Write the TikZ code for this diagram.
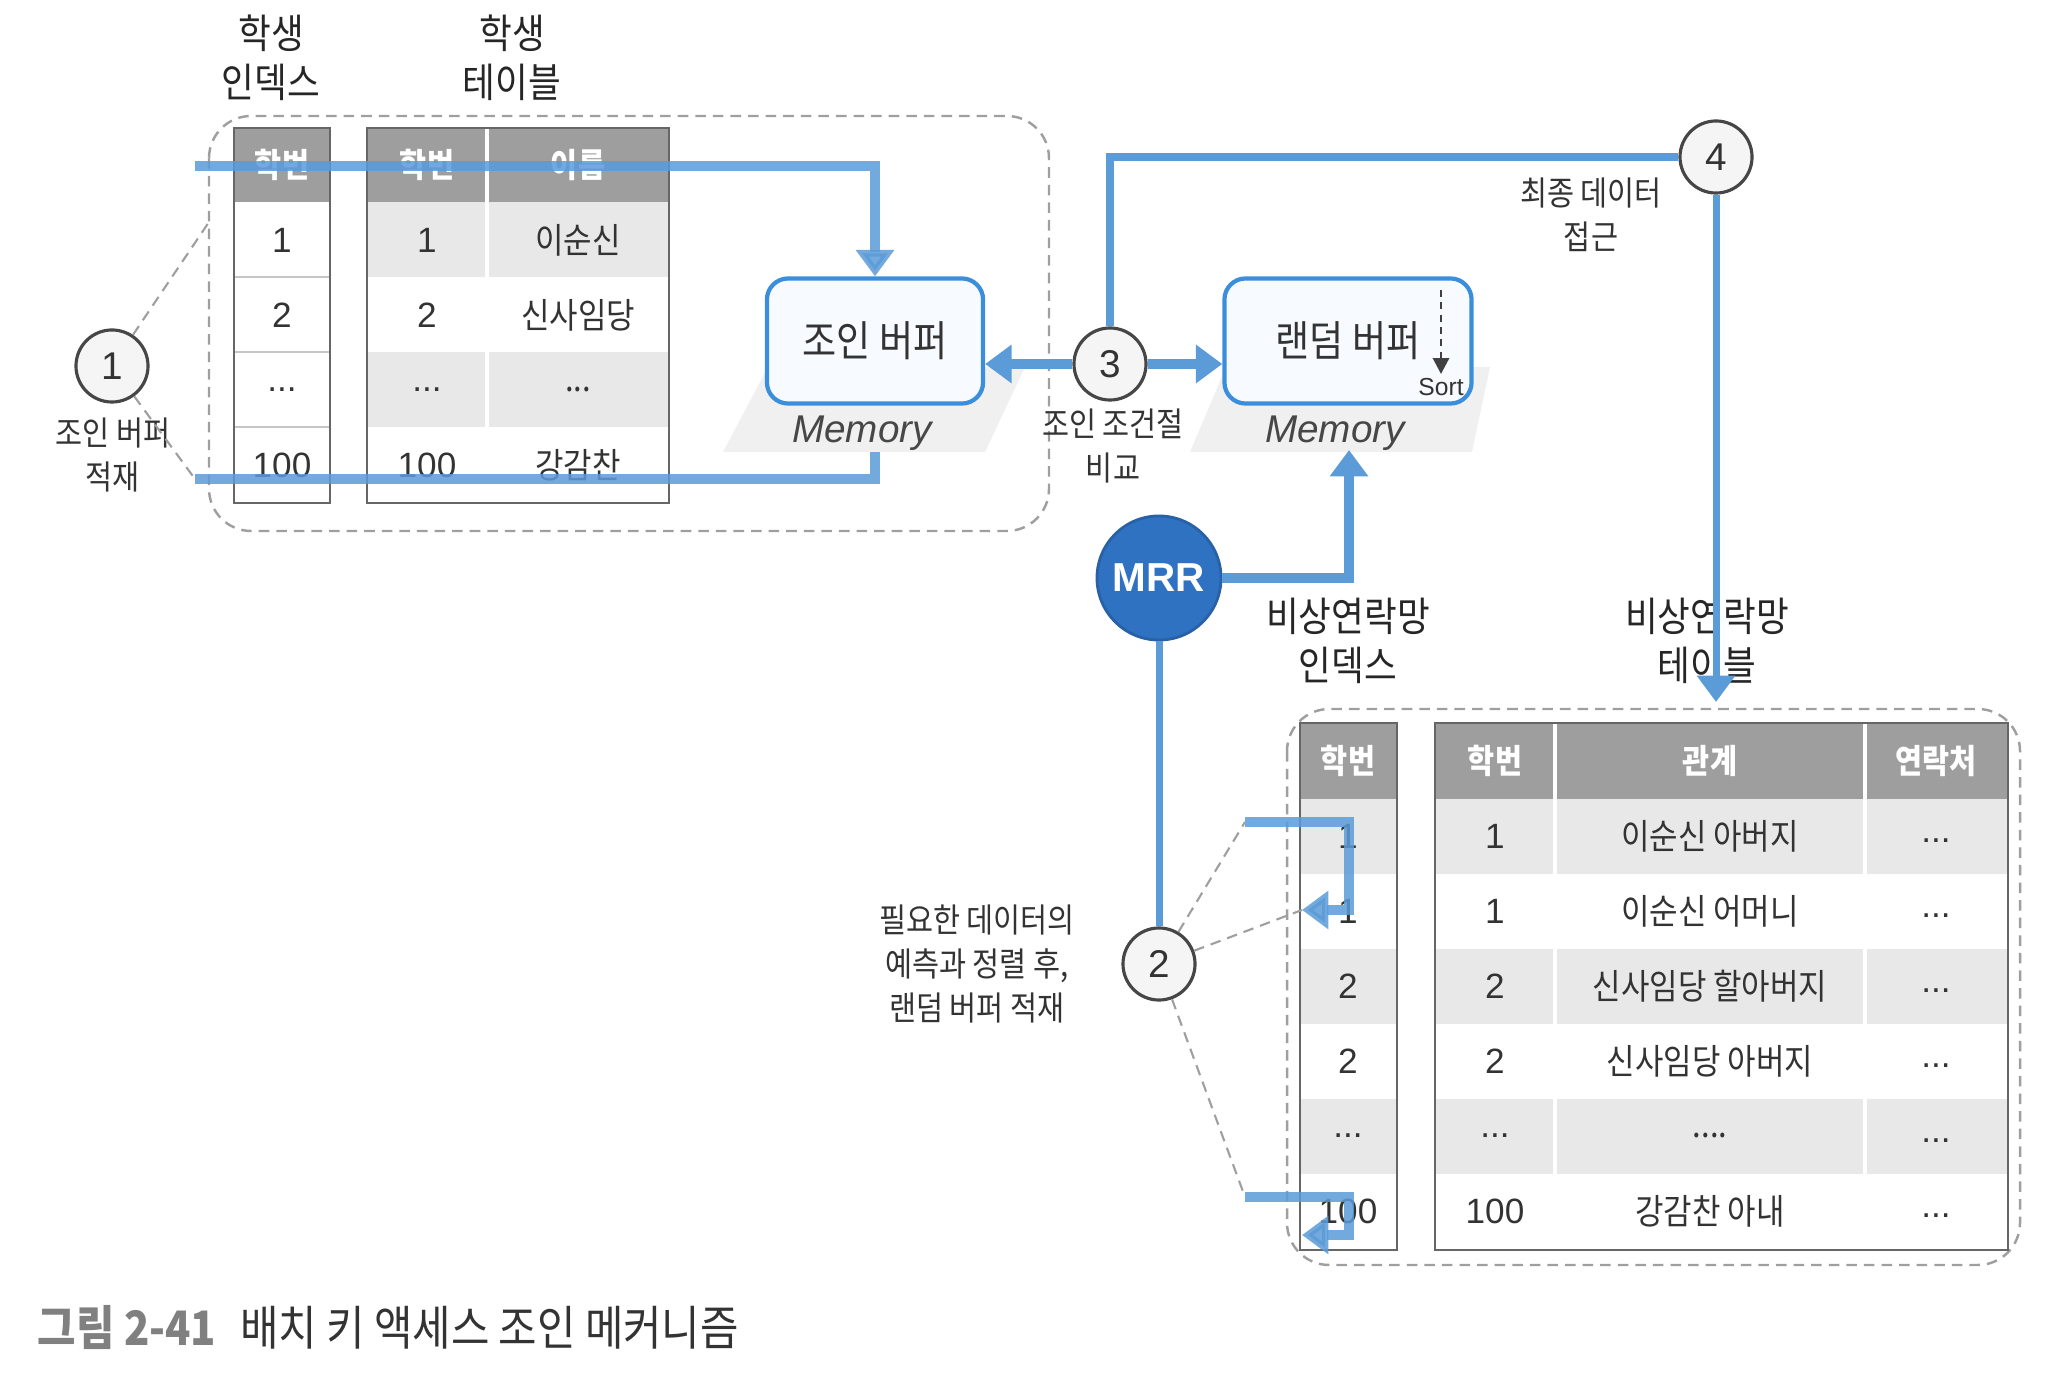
\documentclass[tikz,border=0pt]{standalone}
\usepackage{fontspec}
\setmainfont{Liberation Sans}
\newfontfamily\kr[FakeStretch=0.88]{Noto Sans CJK KR}
\usetikzlibrary{arrows.meta,positioning,calc}

\definecolor{flowblue}{HTML}{5B9BD8}
\definecolor{boxblue}{HTML}{3B8EDB}
\definecolor{boxfill}{HTML}{F7FBFF}
\definecolor{mrrblue}{HTML}{2F72C2}
\definecolor{headgray}{HTML}{9E9E9E}
\definecolor{rowgray}{HTML}{E8E8E8}
\definecolor{txtgray}{HTML}{333333}

\newcommand\celldots{...}

\tikzset{
  groupbox/.style = {draw=gray!75, dash pattern=on 3pt off 2pt, rounded corners=12pt, line width=0.7pt},
  plane/.style = {fill=gray!12},
  buffer/.style = {rectangle, rounded corners=6pt, draw=boxblue, fill=boxfill, line width=1.2pt,
                   minimum width=2.16cm, minimum height=1.25cm, text=txtgray, font=\kr\fontsize{12}{14}\selectfont},
  memtext/.style = {font=\itshape\fontsize{11}{13}\selectfont, text=black!72},
  title/.style = {font=\kr\fontsize{11.5}{14}\selectfont, align=center, text=black!85, inner sep=0pt},
  note/.style = {font=\kr\fontsize{9.5}{12.5}\selectfont, align=center, text=txtgray, inner sep=0pt},
  headcell/.style = {font=\kr\bfseries\fontsize{9.5}{11}\selectfont, text=white, inner sep=0pt},
  cellnum/.style = {font=\fontsize{10}{12}\selectfont, text=txtgray, inner sep=0pt},
  cellkr/.style = {font=\kr\fontsize{10}{12}\selectfont, text=txtgray, inner sep=0pt},
  tableline/.style = {draw=gray!80!black, line width=0.8pt},
  sepline/.style = {draw=gray!45, line width=0.5pt},
  stepnum/.style = {circle, draw=gray!55!black, fill=gray!8, line width=0.9pt, minimum size=0.72cm,
                    inner sep=0pt, text=txtgray, font=\fontsize{11}{12}\selectfont},
  mrr/.style = {circle, draw=mrrblue!85!black, fill=mrrblue, line width=0.8pt, minimum size=1.24cm,
                inner sep=0pt, text=white, font=\bfseries\fontsize{11.5}{12}\selectfont},
  flow/.style = {draw=flowblue, line width=2.6pt},
  flowto/.style = {flow, -{Triangle[width=10.5pt,length=7.5pt]}},
  guide/.style = {draw=gray!75, dash pattern=on 3pt off 2pt, line width=0.6pt}
}

\begin{document}
\begin{tikzpicture}[x=0.01cm,y=-0.01cm]
  \useasboundingbox (0,0) rectangle (2070,1386);

  % dashed groups and memory planes
  \draw[groupbox] (209,116) rectangle (1049,531);
  \draw[groupbox] (1287,709) rectangle (2020,1265);
  \fill[plane] (723,452) -- (985,452) -- (1025,367) -- (768,367) -- cycle;
  \fill[plane] (1190,452) -- (1472,452) -- (1490,367) -- (1226,367) -- cycle;

  % buffers
  \node[buffer] (jb) at (875,341) {조인 버퍼};
  \node[buffer, minimum width=2.47cm] (rb) at (1348,341) {랜덤 버퍼};
  \node[memtext] (jm) at (862,433) {Memory};
  \node[memtext] (rm) at (1335,433) {Memory};
  \node[font=\fontsize{7}{8}\selectfont, text=txtgray, inner sep=0pt] (sort) at (1441,387) {Sort};
  \coordinate (sorttop) at (1441,290);
  \draw[black!75, line width=0.8pt, dash pattern=on 2pt off 1.5pt, -{Triangle[width=4.5pt,length=4.5pt]}]
    (sorttop) -- ([yshift=1pt]sort.north);

  % student index
  \fill[headgray] (234,128) rectangle (330,202);
  \node[headcell] (si-h) at (282,165) {학번};
  \foreach \t [count=\i] in {1,2,\celldots,100}
    \node[cellnum] (si-\i) at (282,165+75*\i) {\t};
  \foreach \i in {1,2,3}
    \draw[sepline] (234,202+75*\i) -- (330,202+75*\i);
  \draw[tableline] (234,128) rectangle (330,503);

  % student table
  \fill[headgray] (367,128) rectangle (669,202);
  \foreach \i in {1,3}
    \fill[rowgray] (367,127+75*\i) rectangle (669,202+75*\i);
  \node[headcell] (st-h1) at (427,165) {학번};
  \node[headcell] (st-h2) at (578,165) {이름};
  \foreach \a/\b [count=\i] in {1/이순신,2/신사임당,\celldots/\celldots,100/강감찬} {
    \node[cellnum] (st-\i-a) at (427,165+75*\i) {\a};
    \node[cellkr] (st-\i-b) at (578,165+75*\i) {\b};
  }
  \draw[white, line width=1pt] (487,128) -- (487,503);
  \draw[tableline] (367,128) rectangle (669,503);

  % emergency index and table
  \fill[headgray] (1300,723) rectangle (1397,799);
  \fill[headgray] (1435,723) rectangle (2008,799);
  \foreach \i in {1,3,5} {
    \fill[rowgray] (1300,724+75*\i) rectangle (1397,799+75*\i);
    \fill[rowgray] (1435,724+75*\i) rectangle (2008,799+75*\i);
  }
  \node[headcell] (ei-h) at (1348,761) {학번};
  \node[headcell] (et-h1) at (1495,761) {학번};
  \node[headcell] (et-h2) at (1710,761) {관계};
  \node[headcell] (et-h3) at (1936,761) {연락처};
  \foreach \a/\b/\c [count=\i] in {1/1/이순신 아버지,1/1/이순신 어머니,2/2/신사임당 할아버지,
      2/2/신사임당 아버지,\celldots/\celldots/\celldots.,100/100/강감찬 아내} {
    \node[cellnum] (ei-\i) at (1348,761+75*\i) {\a};
    \node[cellnum] (et-\i-a) at (1495,761+75*\i) {\b};
    \node[cellkr] (et-\i-b) at (1710,761+75*\i) {\c};
    \node[cellnum] (et-\i-c) at (1936,766+75*\i) {\celldots};
  }
  \draw[white, line width=1pt] (1555,723) -- (1555,1250) (1865,723) -- (1865,1250);
  \draw[tableline] (1300,723) rectangle (1397,1250);
  \draw[tableline] (1435,723) rectangle (2008,1250);

  % titles
  \node[title] (si-t) at (271,58) {학생\\인덱스};
  \node[title] (st-t) at (512,58) {학생\\테이블};
  \node[title] (ei-t) at (1348,641) {비상연락망\\인덱스};
  \node[title] (et-t) at (1707,641) {비상연락망\\테이블};

  % steps
  \node[stepnum] (c1) at (112,366) {1};
  \node[note] (c1-l) at (113,455) {조인 버퍼\\적재};
  \node[stepnum] (c3) at (1110,364) {3};
  \node[note] (c3-l) at (1113,446) {조인 조건절\\비교};
  \node[stepnum] (c4) at (1716,157) {4};
  \node[note] (c4-l) at (1591,215) {최종 데이터\\접근};
  \node[mrr] (mrr) at (1159,578) {MRR};
  \node[stepnum] (c2) at (1159,964) {2};
  \node[note] (c2-l) at (977,964) {필요한 데이터의\\예측과 정렬 후,\\랜덤 버퍼 적재};

  % free ends
  \coordinate (jin) at (195,166);
  \coordinate (jout) at (195,479);
  \coordinate (jmem) at (875,452);
  \coordinate (rmem) at (1349,450);
  \coordinate (g1w) at (209,222);
  \coordinate (etop) at (1716,702);
  \coordinate (b1s) at (1245,822);
  \coordinate (b1m) at (1349,910);
  \coordinate (b1e) at (1302,910);
  \coordinate (b2s) at (1245,1197);
  \coordinate (b2m) at (1349,1235);
  \coordinate (b2e) at (1302,1235);

  % flows
  \draw[flowto, opacity=0.85] (jin) -| (jb.north);
  \draw[flow, opacity=0.85] (jout) -| (jmem);
  \draw[flowto] (c3.west) -- (c3.west -| jb.east);
  \draw[flowto] (c3.east) -- (c3.east -| rb.west);
  \draw[flow, line width=2.2pt] (c3.north) |- (c4.west);
  \draw[flowto, line width=2pt] (c4.south) -- (etop);
  \draw[flowto] (mrr.east) -| (rmem);
  \draw[flow, line width=2pt] (mrr.south) -- (c2.north);
  \draw[flowto, opacity=0.85] (b1s) -| (b1m) -- (b1e);
  \draw[flowto, opacity=0.85] (b2s) -| (b2m) -- (b2e);

  % guides
  \draw[guide] (c1) -- (g1w);
  \draw[guide] (c1) -- (jout);
  \draw[guide] (c2) -- (b1s);
  \draw[guide] (c2) -- (b1e);
  \draw[guide] (c2) -- (b2s);

  % caption
  \node[anchor=west, inner sep=0pt, font=\kr\fontsize{13.5}{15}\selectfont, text=txtgray] (cap) at (37,1327)
    {{\bfseries\color{gray}그림 2-41}\hspace{0.5em}배치 키 액세스 조인 메커니즘};
\end{tikzpicture}
\end{document}
